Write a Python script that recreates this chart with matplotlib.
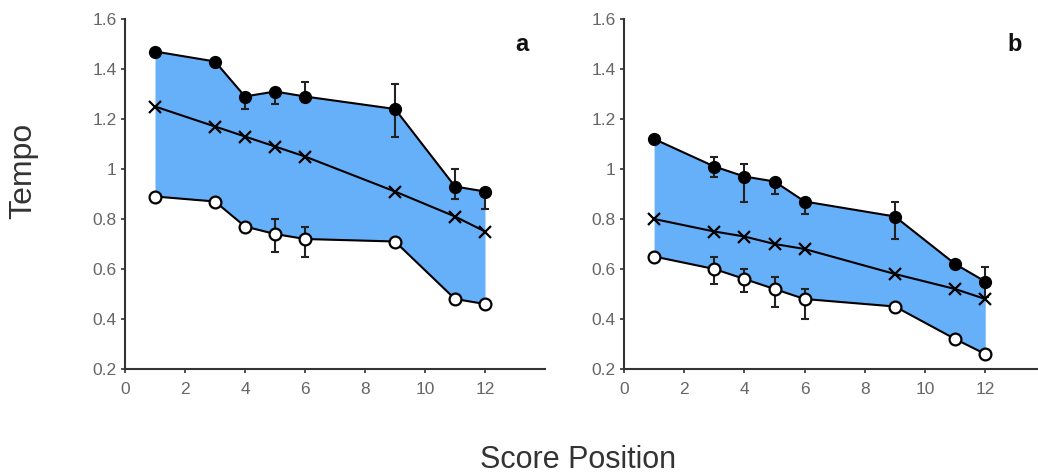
import matplotlib
matplotlib.use("Agg")
import matplotlib.pyplot as plt
import numpy as np

plt.rcParams['font.family'] = ['Liberation Sans', 'DejaVu Sans']

positions = [1, 3, 4, 5, 6, 9, 11, 12]

# Panel a
a_high = [1.47, 1.43, 1.29, 1.31, 1.29, 1.24, 0.93, 0.91]
a_high_err_lo = [0.0, 0.0, 0.05, 0.05, 0.02, 0.11, 0.05, 0.07]
a_high_err_hi = [0.0, 0.0, 0.0, 0.0, 0.06, 0.10, 0.07, 0.0]
a_mean = [1.25, 1.17, 1.13, 1.09, 1.05, 0.91, 0.81, 0.75]
a_low = [0.89, 0.87, 0.77, 0.74, 0.72, 0.71, 0.48, 0.46]
a_low_err_lo = [0.0, 0.0, 0.0, 0.07, 0.07, 0.0, 0.02, 0.0]
a_low_err_hi = [0.0, 0.0, 0.0, 0.06, 0.05, 0.0, 0.0, 0.0]

# Panel b
b_high = [1.12, 1.01, 0.97, 0.95, 0.87, 0.81, 0.62, 0.55]
b_high_err_lo = [0.0, 0.04, 0.10, 0.05, 0.05, 0.09, 0.0, 0.06]
b_high_err_hi = [0.0, 0.04, 0.05, 0.0, 0.0, 0.06, 0.0, 0.06]
b_mean = [0.80, 0.75, 0.73, 0.70, 0.68, 0.58, 0.52, 0.48]
b_low = [0.65, 0.60, 0.56, 0.52, 0.48, 0.45, 0.32, 0.26]
b_low_err_lo = [0.0, 0.06, 0.05, 0.07, 0.08, 0.0, 0.0, 0.0]
b_low_err_hi = [0.0, 0.05, 0.04, 0.05, 0.04, 0.0, 0.0, 0.0]

panel_labels = ['a', 'b']
yticks = [0.2, 0.4, 0.6, 0.8, 1.0, 1.2, 1.4, 1.6]
ytick_labels = ['0.2', '0.4', '0.6', '0.8', '1', '1.2', '1.4', '1.6']
xticks = [0, 2, 4, 6, 8, 10, 12]

W, H = 1038, 475
fig = plt.figure(figsize=(W / 100, H / 100), dpi=100)

fill_color = '#66b0fa'
tick_color = '#666666'

def panel(left_px, right_px, xmax, high, hlo, hhi, mean, low, llo, lhi, label):
    bottom_px, top_px = 369, 19
    ax = fig.add_axes([left_px / W, 1 - bottom_px / H,
                       (right_px - left_px) / W, (bottom_px - top_px) / H])
    ax.fill_between(positions, low, high, color=fill_color, linewidth=0, zorder=1)
    ax.errorbar(positions, high, yerr=[hlo, hhi], fmt='none', ecolor='#222222',
                elinewidth=1.5, capsize=3, capthick=1.5, zorder=2)
    ax.errorbar(positions, low, yerr=[llo, lhi], fmt='none', ecolor='#222222',
                elinewidth=1.5, capsize=3, capthick=1.5, zorder=2)
    ax.plot(positions, high, '-o', color='black', lw=1.5, ms=8.5,
            mfc='black', mec='black', zorder=4)
    ax.plot(positions, low, '-o', color='black', lw=1.5, ms=8.5,
            mfc='white', mec='black', mew=1.6, zorder=4)
    ax.plot(positions, mean, '-x', color='black', lw=1.5, ms=8, mew=1.6, zorder=3)
    ax.set_xlim(0, xmax)
    ax.set_ylim(0.2, 1.6)
    ax.set_yticks(yticks)
    ax.set_yticklabels(ytick_labels)
    ax.set_xticks(xticks)
    for s in ['top', 'right']:
        ax.spines[s].set_visible(False)
    for s in ['left', 'bottom']:
        ax.spines[s].set_linewidth(1.5)
        ax.spines[s].set_color('#333333')
    ax.tick_params(direction='out', length=3, width=1.2, color='#333333',
                   labelsize=12.5, labelcolor=tick_color, pad=3)
    ax.tick_params(axis='x', pad=6)
    ax.text(0.96, 0.96, label, transform=ax.transAxes, fontsize=17,
            fontweight='bold', ha='right', va='top', color='#111111')
    return ax

panel(125, 545, 14, a_high, a_high_err_lo, a_high_err_hi, a_mean,
      a_low, a_low_err_lo, a_low_err_hi, panel_labels[0])
panel(624, 1038, (1038 - 624) / 30.1, b_high, b_high_err_lo, b_high_err_hi, b_mean,
      b_low, b_low_err_lo, b_low_err_hi, panel_labels[1])

fig.text(23 / W, 1 - 171 / H, 'Tempo', rotation=90, fontsize=23,
         color='#333333', ha='center', va='center')
fig.text(578 / W, 1 - 460 / H, 'Score Position', fontsize=22,
         color='#333333', ha='center', va='center')

fig.savefig('out.png', dpi=100)
